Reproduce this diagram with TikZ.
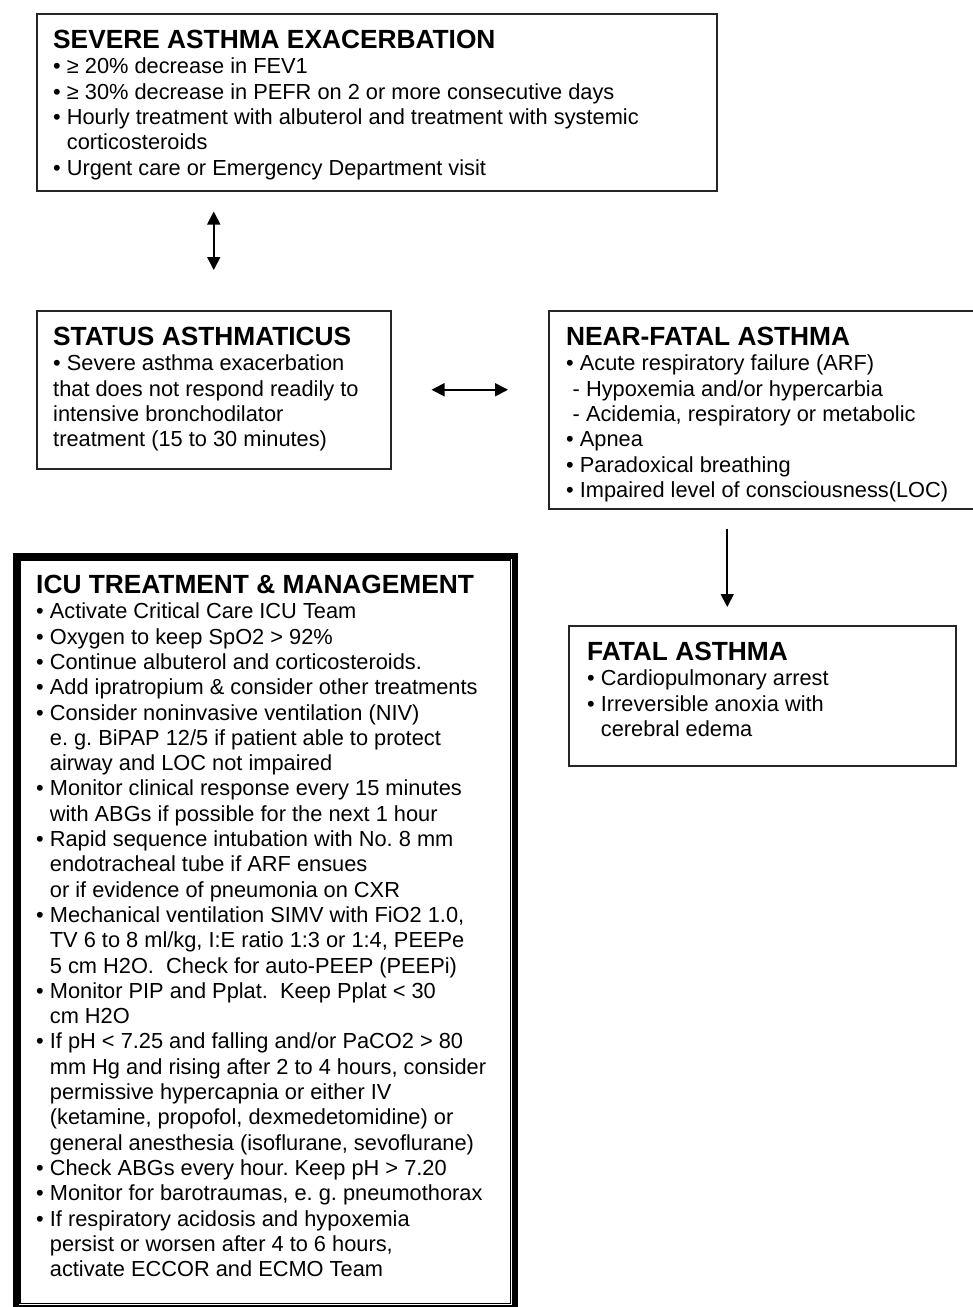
\documentclass[tikz,border=0pt]{standalone}
\usepackage{fontspec}
\setmainfont{Liberation Sans}
\usetikzlibrary{arrows.meta,positioning}

\newcommand\ttl{\fontsize{26.3}{30}\selectfont\bfseries}
\newcommand\ind{\phantom{•\ }}
\frenchspacing

\begin{document}
\begin{tikzpicture}[x=1pt, y=1pt,
    box/.style={draw=black!85, line width=1.5pt, anchor=north west, inner sep=0pt},
    txt/.style={anchor=north west, inner sep=0pt, align=left, font=\fontsize{21.8}{25.3}\selectfont},
    link/.style={{Triangle[length=13pt,width=13pt]}-{Triangle[length=13pt,width=13pt]}, line width=1.8pt},
    fwd/.style={-{Triangle[length=13pt,width=13pt]}, line width=1.8pt}
]
\useasboundingbox (0,0) rectangle (973,-1307);

\node[box, minimum width=680pt, minimum height=177pt] (severe) at (36,-13) {};
\node[box, minimum width=354pt, minimum height=158pt] (status) at (36,-310) {};
\node[box, minimum width=430pt, minimum height=198pt] (nearfatal) at (548,-310) {};
\node[box, minimum width=387pt, minimum height=140pt] (fatal) at (568,-625) {};
\node[box, line width=6.5pt, draw=black, minimum width=499pt, minimum height=752pt] (icu) at (12.5,-552.5) {};
\draw[line width=1.8pt] ([shift={(7.5,-7.5)}]icu.north west) rectangle ([shift={(-7.5,7.5)}]icu.south east);

\node[txt] (severetxt) at (53,-30) {{\ttl SEVERE ASTHMA EXACERBATION}\\
• ≥ 20\% decrease in FEV1\\
• ≥ 30\% decrease in PEFR on 2 or more consecutive days\\
• Hourly treatment with albuterol and treatment with systemic\\
\ind corticosteroids\\
• Urgent care or Emergency Department visit};

\node[txt] (statustxt) at (53,-327) {{\ttl STATUS ASTHMATICUS}\\
• Severe asthma exacerbation\\
that does not respond readily to\\
intensive bronchodilator\\
treatment (15 to 30 minutes)};

\node[txt] (nearfataltxt) at (566,-327) {{\ttl NEAR-FATAL ASTHMA}\\
• Acute respiratory failure (ARF)\\
\hspace*{0.3em}- Hypoxemia and/or hypercarbia\\
\hspace*{0.3em}- Acidemia, respiratory or metabolic\\
• Apnea\\
• Paradoxical breathing\\
• Impaired level of consciousness(LOC)};

\node[txt] (fataltxt) at (587,-642) {{\ttl FATAL ASTHMA}\\
• Cardiopulmonary arrest\\
• Irreversible anoxia with\\
\ind cerebral edema};

\node[txt] (icutxt) at (36,-575) {{\ttl ICU TREATMENT \& MANAGEMENT}\\
• Activate Critical Care ICU Team\\
• Oxygen to keep SpO2 > 92\%\\
• Continue albuterol and corticosteroids.\\
• Add ipratropium \& consider other treatments\\
• Consider noninvasive ventilation (NIV)\\
\ind e. g. BiPAP 12/5 if patient able to protect\\
\ind airway and LOC not impaired\\
• Monitor clinical response every 15 minutes\\
\ind with ABGs if possible for the next 1 hour\\
• Rapid sequence intubation with No. 8 mm\\
\ind endotracheal tube if ARF ensues\\
\ind or if evidence of pneumonia on CXR\\
• Mechanical ventilation SIMV with FiO2 1.0,\\
\ind TV 6 to 8 ml/kg, I:E ratio 1:3 or 1:4, PEEPe\\
\ind 5 cm H2O.~ Check for auto-PEEP (PEEPi)\\
• Monitor PIP and Pplat.~ Keep Pplat < 30\\
\ind cm H2O\\
• If pH < 7.25 and falling and/or PaCO2 > 80\\
\ind mm Hg and rising after 2 to 4 hours, consider\\
\ind permissive hypercapnia or either IV\\
\ind (ketamine, propofol, dexmedetomidine) or\\
\ind general anesthesia (isoflurane, sevoflurane)\\
• Check ABGs every hour. Keep pH > 7.20\\
• Monitor for barotraumas, e. g. pneumothorax\\
• If respiratory acidosis and hypoxemia\\
\ind persist or worsen after 4 to 6 hours,\\
\ind activate ECCOR and ECMO Team};

\draw[link, shorten <=20pt, shorten >=40pt] (status.north |- severe.south) -- (status.north);
\draw[link, shorten <=40pt, shorten >=40pt] (status.east) -- (status.east -| nearfatal.west);
\draw[fwd, shorten <=19pt, shorten >=18pt] ([xshift=-35pt]fatal.north |- nearfatal.south) -- ([xshift=-35pt]fatal.north);

\end{tikzpicture}
\end{document}
